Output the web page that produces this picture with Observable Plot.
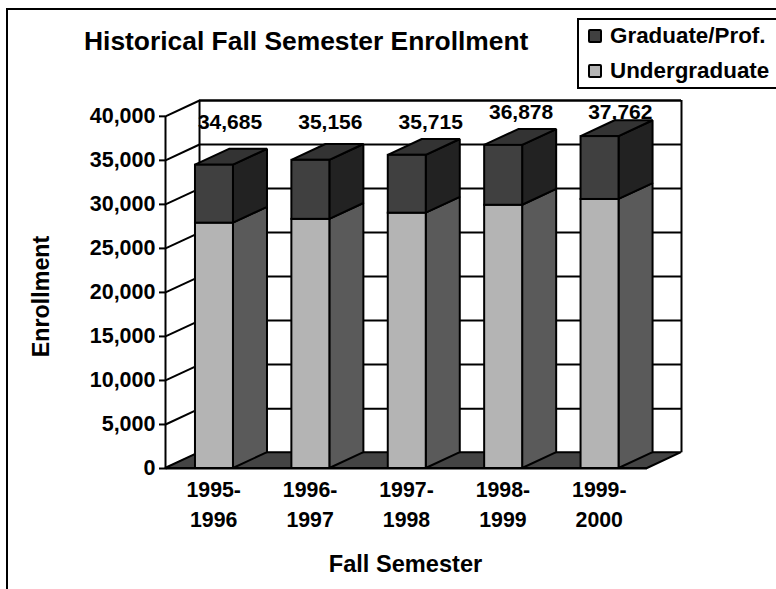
<!DOCTYPE html>
<html><head><meta charset="utf-8">
<script src="https://cdn.jsdelivr.net/npm/d3@7"></script>
<script src="https://cdn.jsdelivr.net/npm/@observablehq/plot@0.6"></script>
<style>
html,body{margin:0;padding:0;background:#fff;overflow:hidden;width:776px;height:589px}
body{position:relative;font-family:"Liberation Sans",Arial,sans-serif;font-weight:bold;color:#000}
#chart{position:absolute;left:0;top:0}
#frame{position:absolute;left:6px;top:8px;width:900px;height:900px;border:2px solid #000;box-sizing:border-box}
#title{position:absolute;left:84px;top:26px;font-size:26.4px;line-height:30px;white-space:nowrap}
#legend{position:absolute;left:577px;top:18px;width:300px;height:71px;border:2px solid #000;box-sizing:border-box;background:#fff}
.entry{position:absolute;left:31px;font-size:22.4px;line-height:28px;white-space:nowrap}
.swatch{position:absolute;left:-22px;top:7px;width:14px;height:14px;border:2px solid #000;box-sizing:border-box;border-radius:2px}
</style></head>
<body>
<div id="frame"></div>
<div id="chart"></div>
<div id="title">Historical Fall Semester Enrollment</div>
<div id="legend"></div>
<script>
const semesters = ["1995-\n1996","1996-\n1997","1997-\n1998","1998-\n1999","1999-\n2000"];
const totalLabels = [34685,35156,35715,36878,37762];
const undergraduate = [27870,28300,29000,29900,30560];
const graduate = [6580,6700,6570,6800,7140];
const yTicks = [0,5000,10000,15000,20000,25000,30000,35000,40000];
const seriesNames = ["Graduate/Prof.","Undergraduate"];
const seriesColors = {front:["#404040","#b4b4b4"], side:["#222222","#5a5a5a"], top:"#333333", floor:"#444444"};

// layout of the pseudo-3D depth, in scale units
const depthX = 0.353, depthY = 1800;
const barStart = 0.311, barEnd = 0.705;
const labelLevels = [39300,39300,39300,40450,40450];
const labelOffsets = [0.336,0.377,0.418,0.356,0.385];
const n = semesters.length;

const bars = semesters.map((s,i)=>({i, x1:i+barStart, x2:i+barEnd, y0:0, y1:undergraduate[i], y2:undergraduate[i]+graduate[i]}));
const sideFace = (b,lo,hi) => [
  {k:b.i, x:b.x2, y1:lo, y2:hi},
  {k:b.i, x:b.x2+depthX, y1:lo+depthY, y2:hi+depthY}
];
const underSide = bars.flatMap(b=>sideFace(b,b.y0,b.y1));
const gradSide = bars.flatMap(b=>sideFace(b,b.y1,b.y2));
const topFace = bars.flatMap(b=>[
  {k:b.i, y:b.y2, x1:b.x1, x2:b.x2},
  {k:b.i, y:b.y2+depthY, x1:b.x1+depthX, x2:b.x2+depthX}
]);
const floor = [{y:0,x1:0,x2:n},{y:depthY,x1:depthX,x2:n+depthX}];
const sw = {stroke:"#000", strokeWidth:2, strokeLinejoin:"miter"};

const plot = Plot.plot({
  width:776, height:589,
  marginLeft:165, marginRight:95, marginTop:100, marginBottom:121,
  style:{background:"transparent", fontFamily:'"Liberation Sans",Arial,sans-serif', fontWeight:"bold", color:"#000"},
  x:{domain:[0,n+depthX], range:[165,681], axis:null},
  y:{domain:[0,40000+depthY], range:[468,100], axis:null},
  marks:[
    // totals sit behind the walls and the bars
    Plot.text(totalLabels,{x:(d,i)=>i+labelOffsets[i], y:(d,i)=>labelLevels[i], text:d=>d3.format(",")(d), textAnchor:"start", fontSize:21, fill:"#000", fontWeight:"bold"}),
    // back wall and left wall grid
    Plot.ruleY(yTicks.filter(v=>v>0),{y:v=>v+depthY, x1:depthX, x2:n+depthX, ...sw}),
    Plot.ruleX([depthX,n+depthX],{y1:depthY, y2:40000+depthY, ...sw}),
    Plot.ruleY([40000+depthY],{x1:depthX, x2:n+depthX, ...sw}),
    Plot.link(yTicks,{x1:0, y1:v=>v, x2:depthX, y2:v=>v+depthY, ...sw}),
    // floor
    Plot.areaX(floor,{y:"y",x1:"x1",x2:"x2",fill:seriesColors.floor,...sw}),
    // bars
    Plot.areaY(underSide,{x:"x",y1:"y1",y2:"y2",z:"k",fill:seriesColors.side[1],...sw}),
    Plot.areaY(gradSide,{x:"x",y1:"y1",y2:"y2",z:"k",fill:seriesColors.side[0],...sw}),
    Plot.areaX(topFace,{y:"y",x1:"x1",x2:"x2",z:"k",fill:seriesColors.top,...sw}),
    Plot.rect(bars,{x1:"x1",x2:"x2",y1:"y0",y2:"y1",fill:seriesColors.front[1],...sw}),
    Plot.rect(bars,{x1:"x1",x2:"x2",y1:"y1",y2:"y2",fill:seriesColors.front[0],...sw}),
    // front axis
    Plot.ruleX([0],{y1:0,y2:40000,...sw}),
    Plot.ruleY([0],{x1:0,x2:n,...sw}),
    Plot.axisY({ticks:yTicks, tickFormat:d3.format(","), tickSize:6, tickPadding:4, strokeWidth:2, stroke:"#000", fill:"#000", fontSize:21.5, label:null, fontWeight:"bold", textStroke:"none"}),
    // category labels
    Plot.text(semesters,{x:(d,i)=>i+0.5, frameAnchor:"bottom", dy:7, lineAnchor:"top", lineHeight:1.41, text:d=>d, fontSize:21.3, fill:"#000", fontWeight:"bold"}),
    // axis titles
    Plot.text(["Fall Semester"],{frameAnchor:"bottom", dx:-18, dy:103, fontSize:23.6, fill:"#000", fontWeight:"bold"}),
    Plot.text(["Enrollment"],{frameAnchor:"left", textAnchor:"middle", dx:-124, dy:12, rotate:-90, fontSize:23.3, fill:"#000", fontWeight:"bold"})
  ]
});
document.getElementById("chart").append(plot);

const legend = document.getElementById("legend");
seriesNames.forEach((name,i)=>{
  const e = document.createElement("div");
  e.className="entry"; e.style.top=(i===0?2:37)+"px"; e.textContent=name;
  const s = document.createElement("span");
  s.className="swatch"; s.style.background=seriesColors.front[i];
  e.append(s); legend.append(e);
});
</script>
</body></html>
